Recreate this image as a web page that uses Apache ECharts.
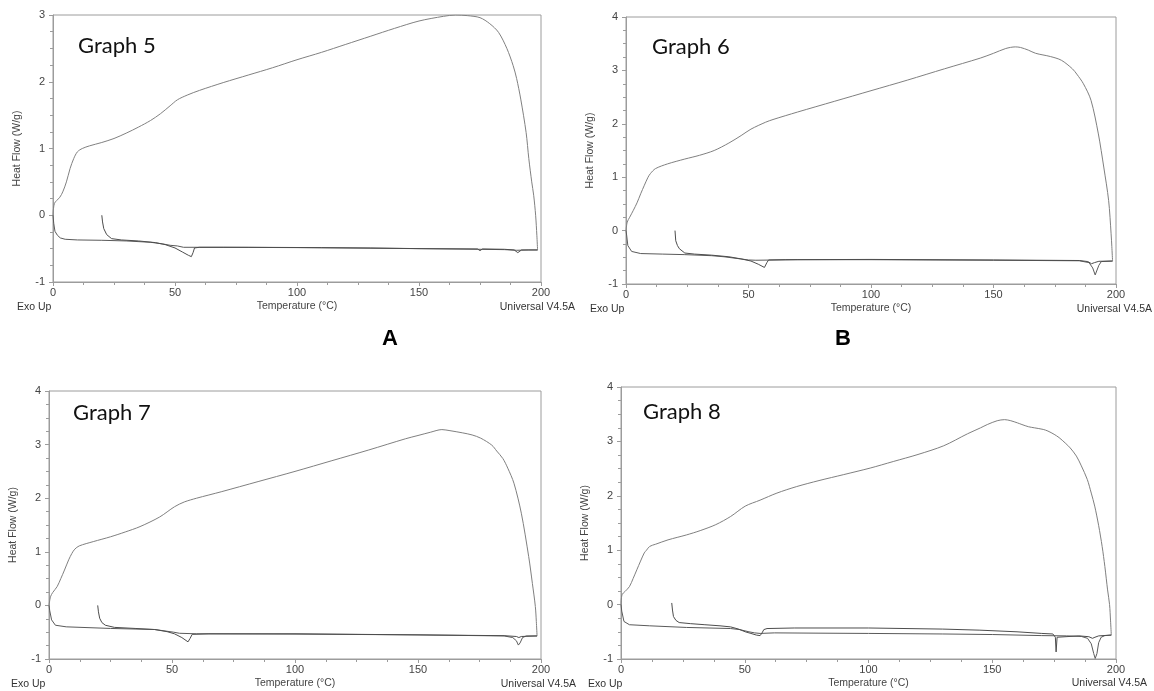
<!DOCTYPE html>
<html>
<head>
<meta charset="utf-8">
<script src="https://cdn.jsdelivr.net/npm/echarts@6/dist/echarts.min.js"></script>
<style>
  html, body { margin: 0; padding: 0; background: #fff; }
  #chart { width: 1154px; height: 691px; }
</style>
</head>
<body>
<div id="chart"></div>
<script>
// DSC thermograms: heat flow (W/g) against temperature (°C), four runs.
// Each run: first heating from 20 °C, cooling from 200 °C, second heating from 0 °C.

const xTicks = [0, 50, 100, 150, 200];

// ---- Graph 5 ----
const g5Heat1 = [[20,0],[20.3,-0.1],[20.8,-0.2],[22,-0.29],[24,-0.35],[28,-0.37],[35,-0.385],[42,-0.41],[46,-0.44],[50,-0.49],[53,-0.55],[55.5,-0.6],[56.7,-0.62],[57.4,-0.56],[58,-0.49],[60,-0.48],[80,-0.48],[110,-0.485],[130,-0.49],[150,-0.5],[174,-0.505],[175,-0.53],[176,-0.505],[185,-0.51],[189,-0.52],[190.5,-0.56],[192,-0.52],[198.6,-0.52]];
const g5Cool = [[198.6,-0.52],[198.3,-0.3],[197.8,0],[197,0.3],[196.2,0.5],[195,0.85],[193.9,1.24],[191.7,1.74],[190,2.05],[188.6,2.24],[186,2.5],[182.6,2.74],[179,2.87],[175,2.96],[170,2.99],[165,3.0],[160,2.98],[150,2.91],[140,2.8],[130,2.68],[120,2.56],[110,2.44],[100,2.33],[90,2.21],[80,2.1],[70,1.99],[60,1.87],[55,1.8],[51,1.73],[48,1.64],[44,1.52],[40,1.42],[35,1.32],[30,1.23],[25,1.15],[20,1.09],[15,1.04],[12,1.0],[10,0.95],[8.5,0.85],[7,0.7],[5.5,0.5],[4,0.35],[2.8,0.27],[1.5,0.22],[0.6,0.18],[0.2,0.1],[0,0]];
const g5Heat2 = [[0,0],[0.3,-0.12],[0.8,-0.24],[1.8,-0.3],[3,-0.34],[5,-0.36],[10,-0.37],[20,-0.375],[30,-0.385],[40,-0.405],[45,-0.43],[48,-0.45],[51,-0.46],[53.5,-0.48],[70,-0.48],[100,-0.485],[150,-0.5],[175,-0.51],[185,-0.515],[190,-0.525],[195,-0.52],[198.6,-0.52]];

// ---- Graph 6 ----
const g6Heat1 = [[20,0],[20.3,-0.19],[21,-0.28],[21.8,-0.34],[24,-0.42],[28,-0.44],[35,-0.46],[42,-0.49],[47,-0.53],[51,-0.57],[54,-0.63],[56.5,-0.69],[57.5,-0.6],[58.2,-0.55],[65,-0.545],[100,-0.54],[150,-0.55],[185,-0.56],[188.5,-0.58],[190,-0.62],[191.2,-0.6],[193,-0.575],[198.6,-0.57]];
const g6Cool = [[198.6,-0.57],[198.3,-0.3],[198,-0.06],[197,0.56],[195,1.19],[192.8,1.81],[189.8,2.44],[186.7,2.75],[184,2.93],[182.2,3.03],[177.7,3.19],[173.2,3.26],[167.2,3.32],[164.2,3.38],[161,3.43],[158.9,3.44],[155,3.41],[150,3.32],[144.6,3.23],[130,3.03],[115,2.82],[100,2.62],[85,2.42],[70,2.22],[60,2.08],[57,2.03],[51,1.9],[47,1.78],[42,1.64],[36,1.5],[30,1.41],[24,1.34],[17,1.25],[12,1.16],[10,1.07],[9,1.0],[7.5,0.85],[6,0.69],[4.5,0.52],[3,0.38],[1.5,0.25],[0.5,0.16],[0,0]];
const g6Heat2 = [[0,0],[0.3,-0.1],[0.75,-0.28],[2.3,-0.39],[6,-0.43],[15,-0.44],[24,-0.45],[35,-0.47],[40,-0.49],[46.7,-0.53],[50,-0.55],[53,-0.555],[70,-0.545],[100,-0.545],[150,-0.555],[185,-0.565],[189,-0.6],[190.5,-0.7],[191.5,-0.83],[192.3,-0.8],[193,-0.65],[194,-0.58],[198.6,-0.57]];

// ---- Graph 7 ----
const g7Heat1 = [[19.8,0],[20.1,-0.12],[20.6,-0.24],[21.5,-0.32],[22.9,-0.37],[26.6,-0.41],[35,-0.43],[43,-0.45],[48,-0.49],[51,-0.53],[54,-0.6],[56.5,-0.68],[57.3,-0.62],[58.2,-0.54],[65,-0.53],[100,-0.53],[150,-0.55],[185,-0.565],[190,-0.58],[191,-0.6],[192,-0.58],[198.4,-0.57]];
const g7Cool = [[198.4,-0.57],[198.1,-0.3],[197.7,-0.02],[196.5,0.41],[195,0.91],[192,1.72],[189,2.28],[186.5,2.56],[184.5,2.74],[182,2.88],[180,2.99],[175.5,3.12],[172,3.18],[168,3.22],[163,3.26],[159.7,3.28],[155,3.23],[150,3.17],[145,3.11],[130,2.9],[115,2.7],[100,2.5],[85,2.31],[70,2.12],[60,2.0],[55,1.93],[51,1.84],[45,1.65],[37,1.47],[31,1.37],[25,1.28],[18,1.19],[12.3,1.11],[10.5,1.05],[9.3,0.97],[8,0.85],[6.3,0.66],[4.8,0.5],[3.3,0.35],[1.5,0.24],[0.6,0.16],[0,0]];
const g7Heat2 = [[0,0],[0.3,-0.1],[1.05,-0.27],[2.6,-0.37],[7,-0.4],[25,-0.43],[43,-0.45],[50.7,-0.5],[53,-0.52],[60,-0.53],[100,-0.535],[150,-0.55],[185,-0.57],[188.5,-0.6],[190,-0.66],[190.8,-0.74],[191.5,-0.7],[192.5,-0.6],[194,-0.57],[198.4,-0.57]];

// ---- Graph 8 ----
const g8Heat1 = [[20.5,0.03],[20.8,-0.1],[21.2,-0.22],[22.2,-0.29],[23.5,-0.33],[28,-0.35],[33.9,-0.37],[40,-0.39],[44.3,-0.41],[47.5,-0.45],[50.2,-0.5],[52.5,-0.53],[54.7,-0.56],[56.2,-0.57],[57,-0.52],[57.7,-0.46],[59,-0.44],[70,-0.43],[100,-0.43],[130,-0.45],[145,-0.47],[160,-0.5],[170,-0.53],[174.5,-0.54],[175,-0.52],[175.5,-0.6],[175.8,-0.87],[176.2,-0.6],[177,-0.57],[185,-0.575],[189,-0.59],[190.5,-0.62],[191.5,-0.6],[193,-0.575],[198.1,-0.56]];
const g8Cool = [[198.1,-0.56],[197.8,-0.3],[197.4,0],[196.6,0.27],[195.5,0.7],[194.4,1.07],[193,1.45],[191.4,1.81],[190,2.05],[188.4,2.3],[186,2.55],[184,2.73],[181.5,2.88],[179.5,2.97],[177,3.07],[175,3.13],[172.5,3.19],[170.6,3.22],[167,3.25],[164.6,3.27],[162,3.31],[160.2,3.34],[157.5,3.38],[155,3.4],[152,3.38],[148,3.31],[145.3,3.25],[140,3.14],[130.4,2.92],[120,2.76],[110,2.63],[100.7,2.51],[90,2.39],[80,2.28],[71,2.17],[63,2.05],[56.2,1.92],[50.2,1.81],[44.3,1.62],[38.3,1.47],[32,1.36],[26.4,1.28],[19,1.19],[14,1.11],[11.6,1.07],[10.3,1.0],[9.4,0.95],[7.9,0.8],[6.4,0.64],[4.9,0.48],[3.4,0.33],[1.6,0.24],[0.4,0.18],[0,0]];
const g8Heat2 = [[0,0],[0.3,-0.12],[1.2,-0.31],[3.4,-0.37],[11.6,-0.39],[26.4,-0.42],[44.3,-0.44],[48,-0.46],[51.7,-0.5],[54,-0.52],[56.2,-0.53],[62,-0.52],[80,-0.525],[100,-0.53],[130,-0.54],[150,-0.55],[170,-0.57],[180,-0.575],[186,-0.585],[188.5,-0.62],[190,-0.72],[191,-0.9],[191.6,-0.99],[192.3,-0.9],[193,-0.7],[194,-0.6],[195.5,-0.57],[198.1,-0.56]];

const panelTitles = ['Graph 5', 'Graph 6', 'Graph 7', 'Graph 8'];
const yMax = [3, 4, 4, 4];

const panels = [
  { grid: { left: 53, top: 15, width: 488, height: 267 }, runs: [g5Heat1, g5Cool, g5Heat2],
    title: [78, 46], exo: [17, 307.5], uni: [575, 307.5] },
  { grid: { left: 626, top: 17, width: 490, height: 267 }, runs: [g6Heat1, g6Cool, g6Heat2],
    title: [652, 47], exo: [590, 309], uni: [1152, 309] },
  { grid: { left: 49, top: 391, width: 492, height: 268 }, runs: [g7Heat1, g7Cool, g7Heat2],
    title: [73, 413], exo: [11, 684], uni: [576, 684] },
  { grid: { left: 621, top: 387, width: 495, height: 272 }, runs: [g8Heat1, g8Cool, g8Heat2],
    title: [643, 412], exo: [588, 684], uni: [1147, 683] }
];

const frame = '#9c9c9c';
const textCol = '#444';
const labelFont = 'Liberation Sans, Arial, sans-serif';
const runColors = ['#4d4d4d', '#808080', '#5a5a5a'];

const grids = [], xAxes = [], yAxes = [], series = [], graphics = [];

panels.forEach((p, i) => {
  grids.push(Object.assign({ show: true, borderColor: frame, borderWidth: 1, containLabel: false }, p.grid));
  xAxes.push({
    gridIndex: i, type: 'value', min: xTicks[0], max: xTicks[xTicks.length - 1], interval: 50,
    axisLine: { show: true, onZero: false, lineStyle: { color: frame, width: 1 } },
    axisTick: { show: true, inside: false, length: 4, lineStyle: { color: frame } },
    minorTick: { show: true, splitNumber: 4, length: 3, lineStyle: { color: frame } },
    splitLine: { show: false },
    axisLabel: { fontSize: 11, color: textCol, fontFamily: labelFont, margin: 5 },
    name: 'Temperature (°C)', nameLocation: 'middle', nameGap: 19,
    nameTextStyle: { fontSize: 10.5, color: textCol, fontFamily: labelFont }
  });
  yAxes.push({
    gridIndex: i, type: 'value', min: -1, max: yMax[i], interval: 1,
    axisLine: { show: true, onZero: false, lineStyle: { color: frame, width: 1 } },
    axisTick: { show: true, inside: false, length: 4, lineStyle: { color: frame } },
    minorTick: { show: true, splitNumber: 4, length: 3, lineStyle: { color: frame } },
    splitLine: { show: false },
    axisLabel: { fontSize: 11, color: textCol, fontFamily: labelFont, margin: 8 },
    name: 'Heat Flow (W/g)', nameLocation: 'middle', nameGap: 30,
    nameTextStyle: { fontSize: 10.5, color: textCol, fontFamily: labelFont }
  });
  p.runs.forEach((run, k) => {
    series.push({
      type: 'line', xAxisIndex: i, yAxisIndex: i, data: run,
      showSymbol: false, symbol: 'none', smooth: k === 1 ? 0.3 : false,
      lineStyle: { color: runColors[k], width: 1 }, silent: true, z: 3 - k
    });
  });
  graphics.push(
    { type: 'text', x: p.title[0], y: p.title[1],
      style: { text: panelTitles[i], font: '22px Lato, "Open Sans", sans-serif', fill: '#111', align: 'left', verticalAlign: 'middle' } },
    { type: 'text', x: p.exo[0], y: p.exo[1],
      style: { text: 'Exo Up', font: '10.5px "Liberation Sans", Arial, sans-serif', fill: '#333', align: 'left', verticalAlign: 'middle' } },
    { type: 'text', x: p.uni[0], y: p.uni[1],
      style: { text: 'Universal V4.5A', font: '10.5px "Liberation Sans", Arial, sans-serif', fill: '#333', align: 'right', verticalAlign: 'middle' } }
  );
});

// panel letters between the rows
graphics.push(
  { type: 'text', x: 390, y: 339, style: { text: 'A', font: 'bold 22px "Liberation Sans", Arial, sans-serif', fill: '#000', align: 'center', verticalAlign: 'middle' } },
  { type: 'text', x: 843, y: 339, style: { text: 'B', font: 'bold 22px "Liberation Sans", Arial, sans-serif', fill: '#000', align: 'center', verticalAlign: 'middle' } }
);

const chart = echarts.init(document.getElementById('chart'), null, { renderer: 'canvas' });
chart.setOption({
  animation: false,
  backgroundColor: '#fff',
  grid: grids,
  xAxis: xAxes,
  yAxis: yAxes,
  series: series,
  graphic: graphics
});
</script>
</body>
</html>
